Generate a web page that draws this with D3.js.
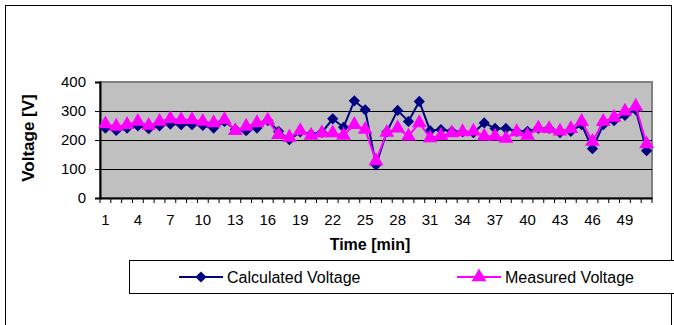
<!DOCTYPE html>
<html>
    <head>
        <title>Voltage chart</title>
        <meta charset="UTF-8">
        <script type="text/javascript" src="https://d3js.org/d3.v7.min.js"></script>
        <style>
            body { margin: 0; background: #fff; }
            text { font-family: "Liberation Sans", Arial, sans-serif; }
        </style>
    </head>
    <body>
        <script type="text/javascript">
            // minutes 1..51
            var minutes = d3.range(1, 52);
            var calculated = [241, 233, 241, 249, 239, 249, 255, 253, 253, 250,
                241, 264, 236, 232, 241, 267, 230, 201, 228, 220,
                226, 273, 244, 335, 304, 114, 228, 302, 264, 333,
                232, 236, 230, 228, 225, 259, 240, 240, 230, 230,
                240, 240, 225, 230, 253, 170, 253, 267, 285, 304, 163];
            var measured = [255, 247, 253, 264, 250, 264, 273, 270, 270, 264,
                259, 270, 232, 247, 259, 268, 218, 209, 232, 216,
                224, 224, 216, 253, 236, 128, 226, 241, 213, 259,
                207, 215, 224, 228, 230, 213, 213, 205, 228, 216,
                241, 239, 230, 239, 264, 195, 264, 278, 299, 316, 186];
            var yTicks = [0, 100, 200, 300, 400];
            var xLabels = minutes.filter(function(d) { return (d - 1) % 3 === 0; });

            var w = 674, h = 325;
            // plot box (note: "top" is a reserved window property)
            var pLeft = 100, pRight = 652, pTop = 82, pBottom = 198;

            var svg = d3.select("body").append("svg")
                    .attr("width", w)
                    .attr("height", h);

            // outer chart border
            svg.append("rect")
                    .attr("x", 5.5).attr("y", 5.5)
                    .attr("width", 666).attr("height", 330)
                    .style("fill", "none").style("stroke", "#000");

            var x = d3.scaleBand().domain(minutes).range([pLeft, pRight]).padding(0);
            var y = d3.scaleLinear().domain([0, 400]).range([pBottom, pTop]);
            var cx = function(d, i) { return x(minutes[i]) + x.bandwidth() / 2; };

            // plot area
            svg.append("rect")
                    .attr("x", pLeft).attr("y", pTop)
                    .attr("width", pRight - pLeft).attr("height", pBottom - pTop)
                    .style("fill", "#c0c0c0")
                    .style("stroke", "#808080").style("stroke-width", 2);

            svg.selectAll(".grid")
                    .data(yTicks.slice(1, 4))
                    .enter().append("line")
                    .attr("x1", pLeft).attr("x2", pRight)
                    .attr("y1", function(d) { return Math.round(y(d)) + 0.5; })
                    .attr("y2", function(d) { return Math.round(y(d)) + 0.5; })
                    .style("stroke", "#000").style("stroke-width", 1);

            // y axis
            var yAxis = svg.append("g")
                    .attr("transform", "translate(" + pLeft + ",0)")
                    .call(d3.axisLeft(y).tickValues(yTicks).tickSize(5).tickPadding(9));
            yAxis.select(".domain").style("stroke-width", 2);
            yAxis.selectAll("text").style("font-size", "15px").style("fill", "#000");

            // x axis: small ticks on category edges, labels every third minute
            var xAxis = svg.append("g")
                    .attr("transform", "translate(0," + pBottom + ")")
                    .call(d3.axisBottom(x).tickValues(xLabels).tickSize(0).tickPadding(16));
            xAxis.select(".domain").style("stroke-width", 2);
            xAxis.selectAll("text").style("font-size", "15px").style("fill", "#000");
            xAxis.selectAll(".edge")
                    .data(minutes.concat([52]))
                    .enter().append("line")
                    .attr("x1", function(d) { return d > 51 ? pRight : x(d); })
                    .attr("x2", function(d) { return d > 51 ? pRight : x(d); })
                    .attr("y1", 0).attr("y2", 5)
                    .style("stroke", "#000");

            svg.append("text")
                    .attr("x", (pLeft + pRight) / 2 - 6).attr("y", 250)
                    .attr("text-anchor", "middle")
                    .style("font-size", "16px").style("font-weight", "bold")
                    .text("Time [min]");

            svg.append("text")
                    .attr("transform", "translate(34," + ((pTop + pBottom) / 2 - 2) + ") rotate(-90)")
                    .attr("text-anchor", "middle")
                    .style("font-size", "17px").style("font-weight", "bold")
                    .text("Voltage [V]");

            var line = d3.line().x(cx).y(function(d) { return y(d); });
            var diamond = d3.symbol().type(d3.symbolDiamond2).size(80);
            var triangle = d3.symbol().type(d3.symbolTriangle).size(95);

            svg.append("path").datum(calculated)
                    .attr("d", line)
                    .style("fill", "none").style("stroke", "#000080").style("stroke-width", 2);
            svg.selectAll(".calc")
                    .data(calculated)
                    .enter().append("path")
                    .attr("d", diamond)
                    .attr("transform", function(d, i) { return "translate(" + cx(d, i) + "," + y(d) + ")"; })
                    .style("fill", "#000080");

            svg.append("path").datum(measured)
                    .attr("d", line)
                    .style("fill", "none").style("stroke", "#ff00ff").style("stroke-width", 2);
            svg.selectAll(".meas")
                    .data(measured)
                    .enter().append("path")
                    .attr("d", triangle)
                    .attr("transform", function(d, i) { return "translate(" + cx(d, i) + "," + y(d) + ")"; })
                    .style("fill", "#ff00ff");

            // legend
            var legend = svg.append("g");
            legend.append("rect")
                    .attr("x", 129.5).attr("y", 260.5)
                    .attr("width", 560).attr("height", 33)
                    .style("fill", "#fff").style("stroke", "#000");
            var items = [
                {name: "Calculated Voltage", color: "#000080", sym: diamond, x: 179},
                {name: "Measured Voltage", color: "#ff00ff", sym: triangle, x: 457}
            ];
            items.forEach(function(it) {
                legend.append("line")
                        .attr("x1", it.x).attr("x2", it.x + 44)
                        .attr("y1", 277).attr("y2", 277)
                        .style("stroke", it.color).style("stroke-width", 2);
                legend.append("path")
                        .attr("d", it.sym)
                        .attr("transform", "translate(" + (it.x + 22) + ",277)")
                        .style("fill", it.color);
                legend.append("text")
                        .attr("x", it.x + 48).attr("y", 282.5)
                        .style("font-size", "16px")
                        .text(it.name);
            });
        </script>
    </body>
</html>
